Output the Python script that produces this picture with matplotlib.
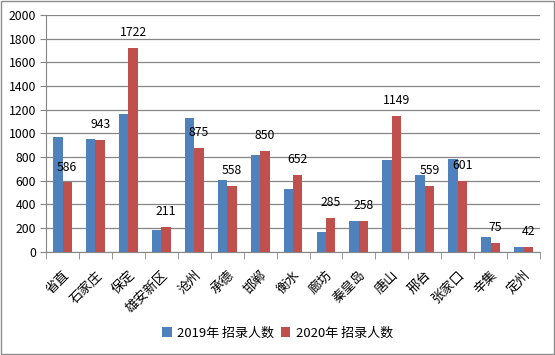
import matplotlib
matplotlib.use("Agg")
import matplotlib.pyplot as plt
import numpy as np
from matplotlib.patches import Rectangle

plt.rcParams['font.family'] = ['Noto Sans CJK SC', 'DejaVu Sans']

cities = ['省直', '石家庄', '保定', '雄安新区', '沧州', '承德', '邯郸', '衡水',
          '廊坊', '秦皇岛', '唐山', '邢台', '张家口', '辛集', '定州']
y2019 = [970, 953, 1166, 180, 1130, 604, 818, 528, 163, 259, 774, 647, 783, 122, 38]
y2020 = [586, 943, 1722, 211, 875, 558, 850, 652, 285, 258, 1149, 559, 601, 75, 42]
yticks = [0, 200, 400, 600, 800, 1000, 1200, 1400, 1600, 1800, 2000]

blue = '#4F81BD'
red = '#C0504D'
gray = '#868686'

fig = plt.figure(figsize=(5.55, 3.55), dpi=100)
ax = fig.add_axes([0.083, 0.291, 0.890, 0.667])

x = np.arange(len(cities))
w = 0.2857
ax.bar(x - w / 2, y2019, w, color=blue, label='2019年 招录人数', zorder=3)
ax.bar(x + w / 2, y2020, w, color=red, label='2020年 招录人数', zorder=3)

for xi, v in zip(x, y2020):
    ax.annotate(str(v), (xi + w / 2, v), xytext=(0, 11), textcoords='offset points',
                ha='center', va='center', fontsize=8.8, color='#000000', zorder=4)

ax.set_xlim(-0.5, len(cities) - 0.5)
ax.set_ylim(0, 2000)
ax.set_yticks(yticks)
ax.tick_params(axis='y', labelsize=8.8, length=4, color=gray, pad=3)
ax.yaxis.grid(True, color=gray, linewidth=0.9, zorder=0)

# boundaries carry the tick marks, centers carry the labels
ax.set_xticks(np.arange(len(cities) + 1) - 0.5, minor=True)
ax.set_xticks(x)
ax.set_xticklabels(cities, rotation=45, ha='right', rotation_mode='anchor', fontsize=9.5)
ax.tick_params(axis='x', which='major', length=0, pad=12)
ax.tick_params(axis='x', which='minor', length=5, color=gray)

for s in ['top', 'right']:
    ax.spines[s].set_visible(False)
for s in ['left', 'bottom']:
    ax.spines[s].set_color(gray)

fig.legend(loc='center', bbox_to_anchor=(0.5, 0.062), ncol=2, frameon=False,
           fontsize=9.4, handlelength=0.75, handleheight=0.75, handletextpad=0.4,
           columnspacing=0.5)

fig.patches.append(Rectangle((0.002, 0.003), 0.996, 0.994, transform=fig.transFigure,
                             fill=False, edgecolor='#8C8C8C', linewidth=1.0))

fig.savefig('out.png', dpi=100)
